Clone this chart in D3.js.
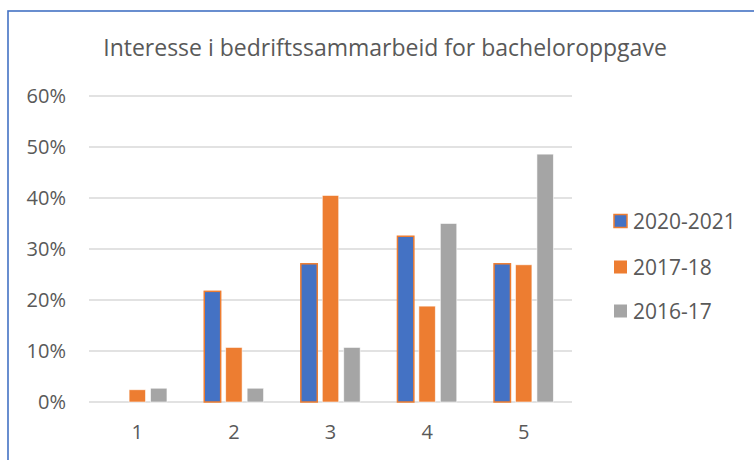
<!DOCTYPE html>
<html>
<head>
<meta charset="utf-8">
<script src="https://cdn.jsdelivr.net/npm/d3@7"></script>
<style>
  body { margin: 0; background: #fff; }
  text { font-family: 'Open Sans', sans-serif; fill: #595959; }
</style>
</head>
<body>
<div id="chart"></div>
<script>
(function(d3) {
  'use strict';

  var categories = ['1', '2', '3', '4', '5'];
  var seriesNames = ['2020-2021', '2017-18', '2016-17'];
  var values2020 = [0, 21.7, 27.1, 32.5, 27.1];
  var values2017 = [2.4, 10.7, 40.5, 18.8, 26.9];
  var values2016 = [2.7, 2.7, 10.7, 35.0, 48.6];
  var yTicks = [0, 10, 20, 30, 40, 50, 60];

  var title = 'Interesse i bedriftssammarbeid for bacheloroppgave';

  var width = 754;
  var height = 460;

  var colors = ['#4472C4', '#ED7D31', '#A5A5A5'];
  var strokes = ['#ED7D31', 'rgba(255,255,255,0.7)', 'rgba(255,255,255,0.7)'];

  var seriesValues = [values2020, values2017, values2016];

  var svg = d3.select('#chart')
    .append('svg')
    .attr('width', width)
    .attr('height', height);

  // chart area border
  svg.append('rect')
    .attr('x', 8)
    .attr('y', 11)
    .attr('width', 800)
    .attr('height', 500)
    .attr('fill', 'none')
    .attr('stroke', '#4472C4')
    .attr('stroke-width', 1.6);

  svg.append('text')
    .attr('x', 385)
    .attr('y', 56)
    .attr('text-anchor', 'middle')
    .style('font-size', '23px')
    .text(title);

  var x = d3.scaleBand()
    .domain(categories)
    .range([89, 572]);

  var y = d3.scaleLinear()
    .domain([0, 60])
    .range([402, 96]);

  var grid = svg.append('g').attr('class', 'grid');
  grid.selectAll('line')
    .data(yTicks)
    .enter()
    .append('line')
    .attr('x1', 89)
    .attr('x2', 572)
    .attr('y1', function(d){ return y(d); })
    .attr('y2', function(d){ return y(d); })
    .attr('stroke', '#D9D9D9')
    .attr('stroke-width', 1.3);

  var yAxis = svg.append('g')
    .attr('transform', 'translate(66,0)')
    .call(d3.axisLeft(y).tickValues(yTicks).tickSize(0).tickPadding(0)
      .tickFormat(function(d){ return d + '%'; }));
  yAxis.select('.domain').remove();
  yAxis.selectAll('text')
    .style('font-size', '20px')
    .style('fill', '#595959')
    .style('font-family', "'Open Sans', sans-serif");

  var xAxis = svg.append('g')
    .attr('transform', 'translate(0,' + 402 + ')')
    .call(d3.axisBottom(x).tickSize(0).tickPadding(23));
  xAxis.select('.domain').remove();
  xAxis.selectAll('text')
    .style('font-size', '20px')
    .style('fill', '#595959')
    .style('font-family', "'Open Sans', sans-serif");

  var band = x.bandwidth();
  var barStep = band * 0.222;
  var barWidth = band * 0.17;
  var groupWidth = barStep * 2 + barWidth;

  var bars = svg.append('g').attr('class', 'bars');
  seriesValues.forEach(function(vals, s) {
    bars.append('g')
      .selectAll('rect')
      .data(vals)
      .enter()
      .append('rect')
      .attr('x', function(d, i){
        return x(categories[i]) + band / 2 - groupWidth / 2 + s * barStep;
      })
      .attr('y', function(d){ return y(d); })
      .attr('width', barWidth)
      .attr('height', function(d){ return y(0) - y(d); })
      .attr('fill', colors[s])
      .attr('stroke', function(d){ return d > 0 ? strokes[s] : 'none'; })
      .attr('stroke-width', s === 0 ? 1.5 : 0.8);
  });

  var legendY = [221, 267, 311];
  var legend = svg.append('g').attr('class', 'legend')
    .selectAll('g')
    .data(seriesNames)
    .enter()
    .append('g')
    .attr('transform', function(d, i){ return 'translate(614,' + legendY[i] + ')'; });

  legend.append('rect')
    .attr('x', 0)
    .attr('y', -6.5)
    .attr('width', 13)
    .attr('height', 13)
    .attr('fill', function(d, i){ return colors[i]; })
    .attr('stroke', function(d, i){ return i === 0 ? '#ED7D31' : 'none'; })
    .attr('stroke-width', 1.5);

  legend.append('text')
    .attr('x', 19)
    .attr('y', 8)
    .style('font-size', '21px')
    .text(function(d){ return d; });

})(window.d3);
</script>
</body>
</html>
